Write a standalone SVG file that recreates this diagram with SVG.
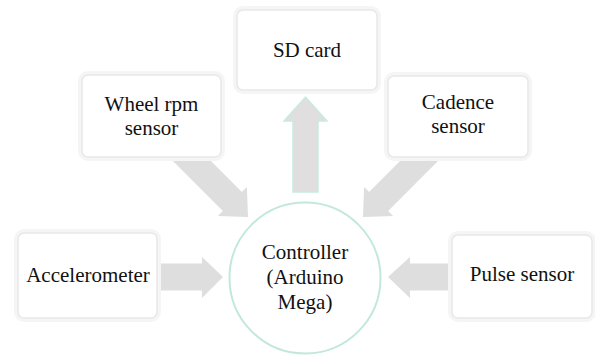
<svg xmlns="http://www.w3.org/2000/svg" width="595" height="358" viewBox="0 0 595 358">
<style>
.box{fill:#ffffff;stroke:#e8e8e8;stroke-width:1.5}
.shadow{fill:none;stroke:#f5f5f5;stroke-width:4}
.arrow{fill:#dedede;stroke:none}
.arrow-up{fill:#e0dedf;stroke:#c8ebe1;stroke-width:1.5}
.t{font-family:"Liberation Serif","Times New Roman",serif;font-size:21px;fill:#111111;text-anchor:middle}
.ctrl{fill:#ffffff;stroke:#c2e8dc;stroke-width:2}
</style>
<rect width="595" height="358" fill="#ffffff"/>
<g id="connectors">
  <polygon class="arrow" points="150,138 188,138 241.9,191.9 246.9,186.9 248,217 217.9,215.9 222.9,210.9"/>
  <polygon class="arrow" points="461,138 423,138 369.1,191.9 364.1,186.9 363,217 393.1,215.9 388.1,210.9"/>
  <polygon class="arrow" points="150,263.5 202,263.5 202,257 223,277 202,298 202,290.5 150,290.5"/>
  <polygon class="arrow" points="460,263.5 410,263.5 410,257 388,277 410,298 410,290.5 460,290.5"/>
  <polygon class="arrow-up" points="293,192 293,121 284,121 305.5,97 327,121 318,121 318,192"/>
</g>
<g id="wheel">
  <rect class="shadow" x="80" y="73" width="143" height="86" rx="8"/>
  <rect class="box" x="82" y="75" width="139" height="82" rx="6"/>
  <text class="t" x="151.5" y="111">Wheel rpm</text>
  <text class="t" x="151.5" y="135">sensor</text>
</g>
<g id="sdcard">
  <rect class="shadow" x="235" y="8" width="144" height="84" rx="8"/>
  <rect class="box" x="237" y="10" width="140" height="80" rx="6"/>
  <text class="t" x="307" y="57">SD card</text>
</g>
<g id="cadence">
  <rect class="shadow" x="386" y="74" width="144" height="85" rx="8"/>
  <rect class="box" x="388" y="76" width="140" height="81" rx="6"/>
  <text class="t" x="458" y="109">Cadence</text>
  <text class="t" x="458" y="133">sensor</text>
</g>
<g id="accelerometer">
  <rect class="shadow" x="16" y="231" width="143" height="89" rx="8"/>
  <rect class="box" x="18" y="233" width="139" height="85" rx="6"/>
  <text class="t" x="88" y="282">Accelerometer</text>
</g>
<g id="pulse">
  <rect class="shadow" x="450" y="233" width="144" height="87" rx="8"/>
  <rect class="box" x="452" y="235" width="140" height="83" rx="6"/>
  <text class="t" x="522" y="281">Pulse sensor</text>
</g>
<g id="controller">
  <circle class="ctrl" cx="305" cy="278" r="75.5"/>
  <text class="t" x="305" y="259">Controller</text>
  <text class="t" x="305" y="284">(Arduino</text>
  <text class="t" x="305" y="309">Mega)</text>
</g>
</svg>
